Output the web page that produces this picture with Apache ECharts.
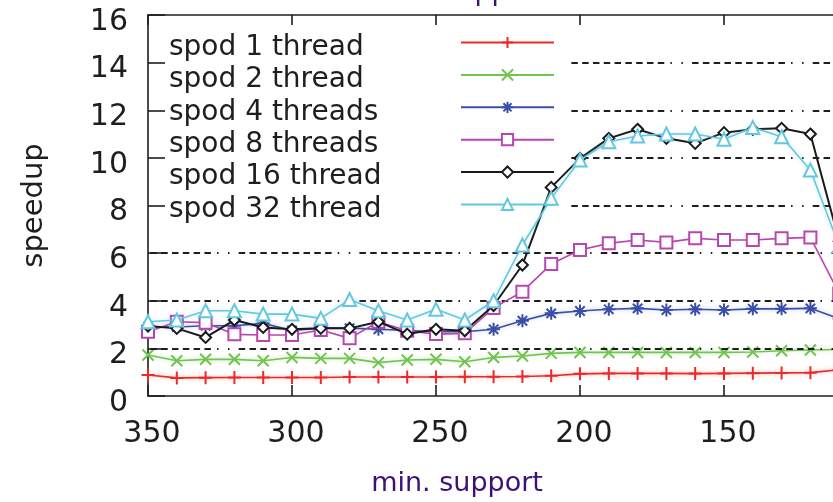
<!DOCTYPE html>
<html>
<head>
<meta charset="utf-8">
<script src="https://cdn.jsdelivr.net/npm/echarts@6/dist/echarts.min.js"></script>
<style>
  html, body { margin: 0; padding: 0; background: #fff; overflow: hidden; }
  body { width: 833px; height: 502px; }
  /* plot continues past the right edge of the page, as in the cropped figure */
  #chart { width: 870px; height: 502px; }
</style>
</head>
<body>
<div id="chart"></div>
<script>
// minimum support values (x axis runs from high to low support)
const supports = [350, 340, 330, 320, 310, 300, 290, 280, 270, 260, 250, 240, 230,
                  220, 210, 200, 190, 180, 170, 160, 150, 140, 130, 120, 110];

const seriesNames = ['spod 1 thread', 'spod 2 thread', 'spod 4 threads',
                     'spod 8 threads', 'spod 16 thread', 'spod 32 thread'];

const speedup1 = [0.88, 0.76, 0.77, 0.78, 0.78, 0.78, 0.78, 0.80, 0.80, 0.80, 0.80, 0.81, 0.81,
                  0.82, 0.85, 0.93, 0.95, 0.95, 0.95, 0.94, 0.95, 0.96, 0.97, 0.98, 1.10];
const speedup2 = [1.72, 1.48, 1.54, 1.54, 1.48, 1.62, 1.58, 1.58, 1.40, 1.51, 1.54, 1.44, 1.62,
                  1.68, 1.79, 1.83, 1.83, 1.83, 1.83, 1.83, 1.83, 1.85, 1.90, 1.93, 1.95];
const speedup4 = [2.90, 2.90, 2.95, 2.95, 3.05, 2.75, 2.85, 2.85, 2.80, 2.75, 2.70, 2.70, 2.80,
                  3.16, 3.47, 3.57, 3.64, 3.68, 3.61, 3.64, 3.61, 3.66, 3.66, 3.68, 3.24];
const speedup8 = [2.70, 3.12, 3.08, 2.59, 2.56, 2.56, 2.77, 2.42, 3.12, 2.74, 2.60, 2.63, 3.70,
                  4.38, 5.54, 6.13, 6.41, 6.55, 6.45, 6.62, 6.55, 6.55, 6.62, 6.66, 4.30];
const speedup16 = [2.94, 2.84, 2.46, 3.19, 2.88, 2.80, 2.84, 2.84, 3.12, 2.60, 2.80, 2.74, 3.80,
                   5.50, 8.76, 9.98, 10.82, 11.20, 10.82, 10.61, 11.06, 11.20, 11.24, 11.00, 6.50];
const speedup32 = [3.12, 3.19, 3.58, 3.58, 3.44, 3.44, 3.26, 4.05, 3.58, 3.19, 3.64, 3.19, 4.00,
                   6.34, 8.30, 9.91, 10.68, 10.92, 11.00, 11.00, 10.78, 11.28, 10.89, 9.49, 6.30];

// axis ticks
const yTicks = { min: 0, max: 16, step: 2 };
const xTicks = { min: 100, max: 350, step: 50 };
const xLabel = 'min. support';
const yLabel = 'speedup';

const FONT = 'DejaVu Sans';
const INK = '#1e1e1e';

const colors = ['#ee2828', '#72c450', '#3a4ea8', '#b846b0', '#1a1a1a', '#62c8e2'];
const halos = ['rgba(245,120,90,0.55)', 'rgba(140,210,120,0.5)', 'rgba(120,140,220,0.45)',
               null, null, 'rgba(130,210,235,0.45)'];
const symbols = [
  'path://M6.5,0V13M0,6.5H13',                              // plus
  'path://M0,0L12,12M12,0L0,12',                            // cross
  'path://M6.5,0V13M0,6.5H13M1.8,1.8L11.2,11.2M11.2,1.8L1.8,11.2', // asterisk
  'emptyRect',
  'emptyDiamond',
  'emptyTriangle'
];
const symbolSizes = [13, 11, 13, 12, 11, 13];
const values = [speedup1, speedup2, speedup4, speedup8, speedup16, speedup32];

// gnuplot-like grid dash: nine dashes then two dots
const gridDash = [6.5, 4.3, 6.5, 4.3, 6.5, 4.3, 6.5, 4.3, 6.5, 4.3, 6.5, 4.3, 6.5, 4.3, 6.5, 4.3,
                  6.5, 6.1, 1.5, 9.5, 1.5, 9.2];

// horizontal grid lines: lower ones span the full width, upper ones start right of the key
const gridLower = [2, 4, 6];
const gridUpper = [8, 10, 12, 14];
const keyRightEdge = 203;

const gridLines = [];
gridLower.forEach(v => gridLines.push([
  { coord: [xTicks.max, v], lineStyle: { dashOffset: 30 } },
  { coord: [xTicks.min, v] }
]));
gridUpper.forEach(v => gridLines.push([
  { coord: [keyRightEdge, v], lineStyle: { dashOffset: 0 } },
  { coord: [xTicks.min, v] }
]));

const series = seriesNames.map((name, i) => {
  const lineStyle = { color: colors[i], width: i === 4 ? 2 : 1.6 };
  if (halos[i]) {
    lineStyle.shadowColor = halos[i];
    lineStyle.shadowBlur = 4;
  }
  return {
    name: name,
    type: 'line',
    xAxisIndex: 0,
    yAxisIndex: 0,
    z: 3 + i,
    data: supports.map((s, k) => [s, values[i][k]]),
    symbol: symbols[i],
    symbolSize: symbolSizes[i],
    showAllSymbol: true,
    lineStyle: lineStyle,
    itemStyle: { color: colors[i], borderColor: colors[i], borderWidth: 2 },
    emphasis: { disabled: true }
  };
});

series.unshift({
  name: 'grid',
  type: 'line',
  data: [],
  z: 1,
  silent: true,
  markLine: {
    silent: true,
    symbol: ['none', 'none'],
    label: { show: false },
    animation: false,
    lineStyle: { color: INK, width: 2, type: gridDash, dashOffset: 30 },
    emphasis: { disabled: true },
    data: gridLines
  }
});

const chart = echarts.init(document.getElementById('chart'), null,
  { renderer: 'canvas', width: 870, height: 502 });

chart.setOption({
  animation: false,
  backgroundColor: '#ffffff',
  grid: { left: 148, top: 15, bottom: 106, right: 2, containLabel: false },
  legend: {
    data: seriesNames,
    orient: 'vertical',
    left: 169,
    top: 33.5,
    padding: 0,
    align: 'right',
    itemWidth: 93,
    itemHeight: 14,
    itemGap: 4.4,
    selectedMode: false,
    formatter: '{n|{name}}',
    textStyle: {
      fontFamily: FONT,
      fontSize: 28,
      color: INK,
      padding: [10, 0, 0, 0],
      rich: {
        n: { width: 287, align: 'left', fontFamily: FONT, fontSize: 28, lineHeight: 33, color: INK }
      }
    }
  },
  xAxis: [
    {
      type: 'value',
      position: 'bottom',
      min: xTicks.min,
      max: xTicks.max,
      interval: xTicks.step,
      inverse: true,
      axisLine: { show: true, onZero: false, lineStyle: { color: INK, width: 1.6 } },
      axisTick: { show: true, inside: true, length: 11, lineStyle: { color: INK, width: 1.6 } },
      axisLabel: { fontFamily: FONT, fontSize: 30, color: INK, margin: 23, padding: [0, 0, 0, 8],
                   showMinLabel: false },
      splitLine: { show: false }
    },
    {
      type: 'value',
      position: 'top',
      min: xTicks.min,
      max: xTicks.max,
      interval: xTicks.step,
      inverse: true,
      axisLine: { show: true, onZero: false, lineStyle: { color: INK, width: 1.6 } },
      axisTick: { show: true, inside: true, length: 10, lineStyle: { color: INK, width: 1.6 } },
      axisLabel: { show: false },
      splitLine: { show: false }
    }
  ],
  yAxis: {
    type: 'value',
    min: yTicks.min,
    max: yTicks.max,
    interval: yTicks.step,
    axisLine: { show: true, lineStyle: { color: INK, width: 1.6 } },
    axisTick: { show: true, inside: true, length: 17, lineStyle: { color: INK, width: 1.6 } },
    axisLabel: { fontFamily: FONT, fontSize: 30, color: INK, margin: 20, verticalAlign: 'top', lineHeight: 14 },
    splitLine: { show: false },
    name: yLabel,
    nameLocation: 'middle',
    nameGap: 99,
    nameTextStyle: { fontFamily: FONT, fontSize: 29, color: INK }
  },
  graphic: [
    {
      type: 'text',
      x: 457, y: 484,
      style: { text: xLabel, font: '27px "DejaVu Sans"', fill: '#3c1078', align: 'center', verticalAlign: 'middle' }
    },
    {
      type: 'text',
      x: 461, y: -7,
      style: { text: xLabel, font: '27px "DejaVu Sans"', fill: '#3c1078', align: 'center', verticalAlign: 'middle' }
    }
  ],
  series: series
});
</script>
</body>
</html>
